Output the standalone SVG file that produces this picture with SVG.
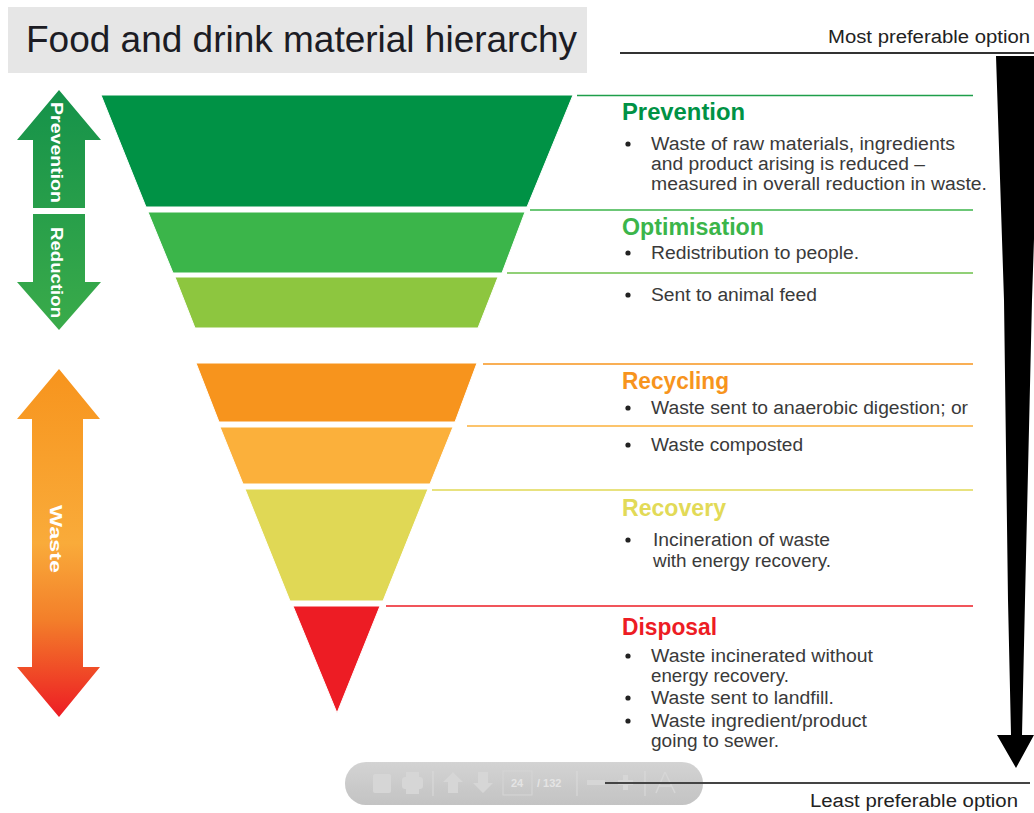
<svg xmlns="http://www.w3.org/2000/svg" width="1034" height="813" viewBox="0 0 1034 813">
<defs>
<style>
.body{font-family:"Liberation Sans",Arial,sans-serif;font-size:18px;fill:#3a3a3a}
.head{font-family:"Liberation Sans",Arial,sans-serif;font-size:23px;font-weight:bold}
.side{font-family:"Liberation Sans",Arial,sans-serif;font-size:17px;font-weight:bold;fill:#ffffff}
.bul{fill:#222}
.tier{stroke:#ffffff;stroke-width:1}
.tb{fill:#d2d2d2}
</style>
<linearGradient id="gGreen" x1="0" y1="90" x2="0" y2="330" gradientUnits="userSpaceOnUse">
<stop offset="0" stop-color="#15924a"/>
<stop offset="1" stop-color="#3aab4a"/>
</linearGradient>
<linearGradient id="gWaste" x1="0" y1="369" x2="0" y2="717" gradientUnits="userSpaceOnUse">
<stop offset="0" stop-color="#f7941d"/>
<stop offset="0.5" stop-color="#f9ab3a"/>
<stop offset="0.72" stop-color="#f37f2a"/>
<stop offset="1" stop-color="#ed1c24"/>
</linearGradient>
<linearGradient id="gTool" x1="0" y1="762" x2="0" y2="805" gradientUnits="userSpaceOnUse">
<stop offset="0" stop-color="#cfcfcf"/>
<stop offset="1" stop-color="#bdbdbd"/>
</linearGradient>
</defs>
<rect width="1034" height="813" fill="#ffffff"/>

<g id="title">
<rect x="8" y="7" width="579" height="66" fill="#e6e6e6"/>
<text x="26" y="52" font-family="Liberation Sans, Arial, sans-serif" font-size="37" fill="#1c1c24" textLength="551" lengthAdjust="spacingAndGlyphs">Food and drink material hierarchy</text>
</g>

<g id="preference-scale">
<text x="828" y="43" class="body" fill="#222" style="fill:#222" textLength="202" lengthAdjust="spacingAndGlyphs">Most preferable option</text>
<line x1="620" y1="53" x2="1034" y2="53" stroke="#333" stroke-width="2"/>
<polygon points="996,56 1040,56 1032,300 1025,600 1022,735 1034,735 1016,768 997,735 1011,735 1008,600 1004,300" fill="#000"/>
<line x1="605" y1="783" x2="1030" y2="783" stroke="#444" stroke-width="2"/>
<text x="810" y="807" class="body" style="fill:#222" textLength="208" lengthAdjust="spacingAndGlyphs">Least preferable option</text>
</g>

<g id="side-arrows">
<g id="arrow-prevention">
<polygon points="59,90 101,140 85,140 85,208 33,208 33,140 17,140" fill="url(#gGreen)"/>
<text class="side" transform="translate(51,102) rotate(90)" textLength="101" lengthAdjust="spacingAndGlyphs">Prevention</text>
</g>
<g id="arrow-reduction">
<polygon points="33,214 85,214 85,282 101,282 59,330 17,282 33,282" fill="url(#gGreen)"/>
<text class="side" transform="translate(51,227) rotate(90)" textLength="91" lengthAdjust="spacingAndGlyphs">Reduction</text>
</g>
<g id="arrow-waste">
<polygon points="59,369 100,419 83,419 83,667 100,667 59,717 17,667 32,667 32,419 17,419" fill="url(#gWaste)"/>
<text class="side" transform="translate(50,505) rotate(90)" textLength="68" lengthAdjust="spacingAndGlyphs">Waste</text>
</g>
</g>

<g id="connectors">
<line x1="577" y1="95.5" x2="973" y2="95.5" stroke="#1e9e4a" stroke-width="1.5"/>
<line x1="530" y1="210" x2="973" y2="210" stroke="#3bb54a" stroke-width="1.5"/>
<line x1="507" y1="273" x2="973" y2="273" stroke="#6cc04a" stroke-width="1.5"/>
<line x1="483" y1="364" x2="973" y2="364" stroke="#f7941d" stroke-width="1.5"/>
<line x1="467" y1="426" x2="973" y2="426" stroke="#fbb03b" stroke-width="1.5"/>
<line x1="432" y1="490" x2="973" y2="490" stroke="#e0d855" stroke-width="1.5"/>
<line x1="386" y1="606" x2="973" y2="606" stroke="#ed1c24" stroke-width="1.5"/>
</g>

<g id="tier-prevention">
<polygon class="tier" points="101,95 573,95 527,207 146,207" fill="#009245"/>
<text x="622" y="120" class="head" fill="#009245" textLength="123" lengthAdjust="spacingAndGlyphs">Prevention</text>
<circle class="bul" cx="628" cy="144" r="2.6"/>
<text x="651" y="150" class="body" textLength="304" lengthAdjust="spacingAndGlyphs">Waste of raw materials, ingredients</text>
<text x="651" y="170" class="body" textLength="274" lengthAdjust="spacingAndGlyphs">and product arising is reduced –</text>
<text x="651" y="190" class="body" textLength="336" lengthAdjust="spacingAndGlyphs">measured in overall reduction in waste.</text>
</g>

<g id="tier-optimisation">
<polygon class="tier" points="148,212 525,212 502,273 173,273" fill="#3bb54a"/>
<text x="622" y="235" class="head" fill="#3bb54a" textLength="142" lengthAdjust="spacingAndGlyphs">Optimisation</text>
<circle class="bul" cx="628" cy="253" r="2.6"/>
<text x="651" y="259" class="body" textLength="208" lengthAdjust="spacingAndGlyphs">Redistribution to people.</text>
</g>

<g id="tier-animal-feed">
<polygon class="tier" points="175,277 498,277 478,328 195,328" fill="#8dc63f"/>
<circle class="bul" cx="628" cy="295" r="2.6"/>
<text x="651" y="301" class="body" textLength="166" lengthAdjust="spacingAndGlyphs">Sent to animal feed</text>
</g>

<g id="tier-recycling">
<polygon class="tier" points="196,363 477,363 455,422 219,422" fill="#f7941d"/>
<text x="622" y="389" class="head" fill="#f7941d" textLength="107" lengthAdjust="spacingAndGlyphs">Recycling</text>
<circle class="bul" cx="628" cy="408" r="2.6"/>
<text x="651" y="414" class="body" textLength="317" lengthAdjust="spacingAndGlyphs">Waste sent to anaerobic digestion; or</text>
</g>

<g id="tier-composting">
<polygon class="tier" points="220,427 453,427 430,484 243,484" fill="#fbb03b"/>
<circle class="bul" cx="628" cy="445" r="2.6"/>
<text x="651" y="451" class="body" textLength="152" lengthAdjust="spacingAndGlyphs">Waste composted</text>
</g>

<g id="tier-recovery">
<polygon class="tier" points="245,489 428,489 383,601 290,601" fill="#e0d855"/>
<text x="622" y="516" class="head" fill="#e2da57" textLength="104" lengthAdjust="spacingAndGlyphs">Recovery</text>
<circle class="bul" cx="628" cy="540" r="2.6"/>
<text x="653" y="546" class="body" textLength="177" lengthAdjust="spacingAndGlyphs">Incineration of waste</text>
<text x="653" y="567" class="body" textLength="178" lengthAdjust="spacingAndGlyphs">with energy recovery.</text>
</g>

<g id="tier-disposal">
<polygon class="tier" points="293,606 380,606 337,713" fill="#ed1c24"/>
<text x="622" y="635" class="head" fill="#ed1c24" textLength="95" lengthAdjust="spacingAndGlyphs">Disposal</text>
<circle class="bul" cx="628" cy="656" r="2.6"/>
<text x="651" y="662" class="body" textLength="222" lengthAdjust="spacingAndGlyphs">Waste incinerated without</text>
<text x="651" y="682" class="body" textLength="138" lengthAdjust="spacingAndGlyphs">energy recovery.</text>
<circle class="bul" cx="628" cy="698" r="2.6"/>
<text x="651" y="704" class="body" textLength="183" lengthAdjust="spacingAndGlyphs">Waste sent to landfill.</text>
<circle class="bul" cx="628" cy="721" r="2.6"/>
<text x="651" y="727" class="body" textLength="216" lengthAdjust="spacingAndGlyphs">Waste ingredient/product</text>
<text x="651" y="747" class="body" textLength="128" lengthAdjust="spacingAndGlyphs">going to sewer.</text>
</g>

<g id="viewer-toolbar" opacity="0.9">
<rect x="345" y="762" width="358" height="43" rx="21" fill="url(#gTool)"/>
<rect x="373" y="774" width="18" height="19" rx="2" class="tb"/>
<rect x="402" y="777" width="21" height="12" rx="3" class="tb"/>
<rect x="406" y="772" width="13" height="6" class="tb"/>
<rect x="406" y="786" width="13" height="8" class="tb"/>
<line x1="433" y1="771" x2="433" y2="796" stroke="#d8d8d8" stroke-width="1"/>
<polygon points="453,772 463,782 458,782 458,793 448,793 448,782 443,782" class="tb"/>
<polygon points="478,772 488,772 488,783 493,783 483,793 473,783 478,783" class="tb"/>
<rect x="503" y="771" width="29" height="24" fill="none" stroke="#d2d2d2" stroke-width="1"/>
<text x="517" y="787" font-family="Liberation Sans, Arial, sans-serif" font-size="11" font-weight="bold" fill="#e2e2e2" text-anchor="middle">24</text>
<text x="537" y="787" font-family="Liberation Sans, Arial, sans-serif" font-size="11" font-weight="bold" fill="#e2e2e2">/ 132</text>
<line x1="577" y1="771" x2="577" y2="796" stroke="#d8d8d8" stroke-width="1"/>
<rect x="587" y="780" width="18" height="5" class="tb"/>
<rect x="618" y="780" width="15" height="5" class="tb"/>
<rect x="623" y="775" width="5" height="15" class="tb"/>
<line x1="645" y1="771" x2="645" y2="796" stroke="#d8d8d8" stroke-width="1"/>
<path d="M665,772 L656,793 M665,772 L675,793 M659,786 L672,786" stroke="#d2d2d2" stroke-width="1.5" fill="none"/>
<line x1="605" y1="783" x2="703" y2="783" stroke="#444" stroke-width="2"/>
</g>
</svg>
